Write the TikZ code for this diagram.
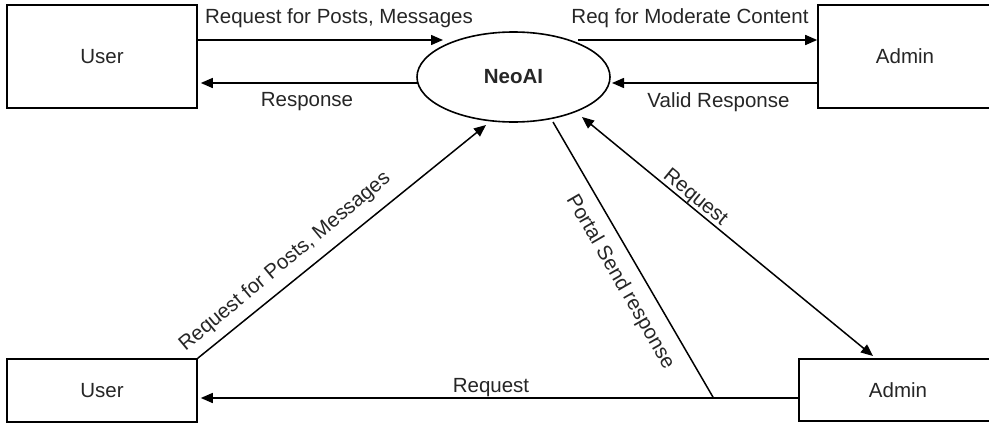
\documentclass[tikz,border=0pt]{standalone}
\usepackage{fontspec}
\setmainfont{Liberation Sans}
\usetikzlibrary{arrows.meta,shapes.geometric,calc}
\begin{document}
\begin{tikzpicture}[x=1pt,y=-1pt,
  every node/.style={font=\fontsize{20.5}{24}\selectfont, text=black!85},
  box/.style={draw,line width=1.6pt,rectangle,inner sep=0pt},
  flow/.style={line width=1.5pt,-{Triangle[length=12pt,width=10pt]}},
  both/.style={line width=1.5pt,{Triangle[length=12pt,width=10pt]}-{Triangle[length=12pt,width=10pt]}},
  plain/.style={line width=1.5pt},
  lbl/.style={inner sep=0pt}]
\useasboundingbox (0,0) rectangle (989,423);
\fill[white] (0,0) rectangle (989,423);
% entities
\node[box,minimum width=190pt,minimum height=103pt] (u1) at (102,56.5) {User};
\node[box,minimum width=174pt,minimum height=103pt] (a1) at (905,56.5) {Admin};
\node[box,minimum width=190pt,minimum height=63pt] (u2) at (102,390.5) {User};
\node[box,minimum width=198pt,minimum height=62pt] (a2) at (898,390) {Admin};
\node[draw,ellipse,line width=1.6pt,inner sep=0pt,minimum width=193pt,minimum height=90pt] (ell) at (513.5,77) {\bfseries NeoAI};
% connector end points
\coordinate (p1) at (443,40);
\coordinate (p2) at (578,40);
\coordinate (p3) at (418,83);
\coordinate (p4) at (612,83);
\coordinate (p5) at (486,125);
\coordinate (p6) at (582,117);
\coordinate (p7) at (873,356);
\coordinate (p8) at (553,122);
\coordinate (p9) at (713.5,398);
% connectors
\draw[flow] (u1.east |- p1) -- (p1);
\draw[flow] (p2) -- (a1.west |- p2);
\draw[flow] (p3) -- ($(u1.east |- p3)+(3,0)$);
\draw[flow] (a1.west |- p4) -- (p4);
\draw[flow] (u2.north east) -- (p5);
\draw[both] (p6) -- (p7);
\draw[plain] (p8) -- (p9);
\draw[flow] (a2.west |- p9) -- ($(u2.east |- p9)+(3,0)$);
% labels
\node[lbl] (l1) at (339,18) {Request for Posts, Messages};
\node[lbl] (l2) at (307,102) {Response};
\node[lbl] (l3) at (690,18) {Req for Moderate Content};
\node[lbl] (l4) at (718.5,102) {Valid Response};
\node[lbl] (l5) at (491,388) {Request};
\node[lbl,rotate=39.8] (l6) at (285,262) {Request for Posts, Messages};
\node[lbl,rotate=-60] (l7) at (620,282) {Portal Send response};
\node[lbl,rotate=-39.4] (l8) at (695,198) {Request};
\end{tikzpicture}
\end{document}
